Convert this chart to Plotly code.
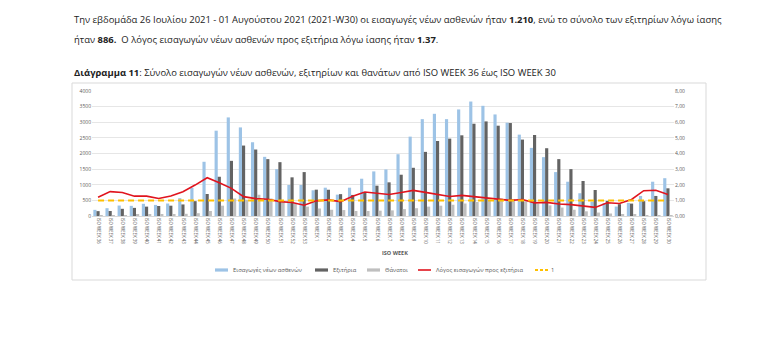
import plotly.graph_objects as go

weeks = [f"ISO WEEK {w}" for w in list(range(36, 54)) + list(range(1, 31))]

admissions = [197, 250, 335, 325, 390, 355, 400, 570, 905, 1735, 2730, 3155, 2835, 2360, 1893, 1500,
              992, 992, 823, 906, 684, 906, 1193, 1427, 1490, 1977, 2540, 3100, 3270, 3100, 3410, 3663,
              3526, 3250, 2985, 2604, 2180, 1883, 1405, 1097, 728, 461, 410, 302, 420, 642, 1097, 1210]
exits = [156, 160, 230, 260, 300, 320, 330, 370, 475, 705, 1256, 1765, 2254, 2127, 1820, 1723,
         1237, 1405, 843, 840, 700, 674, 760, 971, 1077, 1321, 1543, 2052, 2400, 2476, 2582, 2953,
         3027, 2890, 2975, 2445, 2593, 2169, 1820, 1500, 1120, 833, 483, 378, 397, 474, 642, 886]
deaths = [20, 25, 30, 40, 50, 55, 60, 70, 90, 160, 330, 560, 520, 680, 560, 470,
          400, 300, 240, 200, 190, 160, 160, 170, 180, 220, 250, 300, 330, 360, 400, 450,
          520, 560, 540, 470, 400, 340, 270, 200, 150, 110, 80, 60, 40, 30, 30, 30]
ratio = [1.20, 1.56, 1.50, 1.27, 1.27, 1.12, 1.28, 1.55, 1.98, 2.45, 2.13, 1.77, 1.24, 1.11, 1.07, 0.92,
         0.86, 0.69, 0.97, 1.03, 0.92, 1.27, 1.54, 1.47, 1.38, 1.50, 1.64, 1.51, 1.36, 1.25, 1.32, 1.24,
         1.16, 1.12, 1.00, 1.06, 0.84, 0.87, 0.77, 0.73, 0.65, 0.55, 0.85, 0.80, 1.06, 1.62, 1.65, 1.37]
reference_one = [1] * len(weeks)

left_ticks = [0, 500, 1000, 1500, 2000, 2500, 3000, 3500, 4000]
right_ticks = [0, 1, 2, 3, 4, 5, 6, 7, 8]

series_names = ["Εισαγωγές νέων ασθενών", "Εξιτήρια", "Θάνατοι",
                "Λόγος εισαγωγών προς εξιτήρια", "1"]
BLUE, DARK, LIGHT, RED, YELLOW = "#9DC3E6", "#636363", "#BFBFBF", "#E0141E", "#FFC000"

FONT = "Open Sans, Noto Sans, Liberation Sans, sans-serif"
GREY = "#595959"

# page body has an 8px margin; figure is sized to fit the window exactly
OFF = 8
W, H = 772 - 2 * OFF, 355 - 2 * OFF
# plot area in page pixels (reference coordinates)
PL, PR, PT, PB = 92, 674, 91, 216


def px(xv):
    return (xv - PL) / (PR - PL)


def py(yv):
    return (PB - yv) / (PB - PT)


fig = go.Figure()
fig.add_trace(go.Bar(x=weeks, y=admissions, name=series_names[0],
                     marker=dict(color=BLUE, line=dict(width=0))))
fig.add_trace(go.Bar(x=weeks, y=exits, name=series_names[1],
                     marker=dict(color=DARK, line=dict(width=0))))
fig.add_trace(go.Bar(x=weeks, y=deaths, name=series_names[2],
                     marker=dict(color=LIGHT, line=dict(width=0))))
fig.add_trace(go.Scatter(x=weeks, y=ratio, name=series_names[3], yaxis="y2",
                         mode="lines", line=dict(color=RED, width=1.6)))
fig.add_trace(go.Scatter(x=weeks, y=reference_one, name=series_names[4], yaxis="y2",
                         mode="lines", line=dict(color=YELLOW, width=2, dash="6px,4px")))

TXT = dict(family=FONT, size=9.45, color="#222222")
annotations = [
    dict(x=px(72), y=py(20), xref="paper", yref="paper", xanchor="left", yanchor="middle",
         showarrow=False, align="left",
         text="Την εβδομάδα 26 Ιουλίου 2021 - 01 Αυγούστου 2021 (2021-W30) οι εισαγωγές νέων ασθενών ήταν <b>1.210</b>, ενώ το σύνολο των εξιτηρίων λόγω ίασης",
         font=TXT),
    dict(x=px(72), y=py(39), xref="paper", yref="paper", xanchor="left", yanchor="middle",
         showarrow=False, align="left",
         text="ήταν <b>886.</b>  Ο λόγος εισαγωγών νέων ασθενών προς εξιτήρια λόγω ίασης ήταν <b>1.37</b>.",
         font=TXT),
    dict(x=px(72), y=py(72), xref="paper", yref="paper", xanchor="left", yanchor="middle",
         showarrow=False, align="left",
         text="<b>Διάγραμμα 11</b>: Σύνολο εισαγωγών νέων ασθενών, εξιτηρίων και θανάτων από ISO WEEK 36 έως ISO WEEK 30",
         font=TXT),
    dict(x=px(395), y=py(253), xref="paper", yref="paper", xanchor="center", yanchor="middle",
         showarrow=False, text="<b>ISO WEEK</b>",
         font=dict(family=FONT, size=5.5, color=GREY)),
]

shapes = [
    dict(type="rect", xref="paper", yref="paper", x0=px(72), x1=px(706), y0=py(280), y1=py(83),
         line=dict(color="#D9D9D9", width=1), fillcolor="rgba(0,0,0,0)", layer="below"),
]

# legend drawn manually to match the compact reference layout
LY = 270
legend_items = [
    (series_names[0], "bar", BLUE, 215, 231),
    (series_names[1], "bar", DARK, 315, 331),
    (series_names[2], "bar", LIGHT, 367, 383),
    (series_names[3], "line", RED, 418, 434),
    (series_names[4], "dash", YELLOW, 535, 549),
]
for name, kind, color, sx, tx in legend_items:
    if kind == "bar":
        shapes.append(dict(type="rect", xref="paper", yref="paper",
                           x0=px(sx), x1=px(sx + 13), y0=py(LY + 1.6), y1=py(LY - 1.6),
                           line=dict(width=0), fillcolor=color))
    else:
        shapes.append(dict(type="line", xref="paper", yref="paper",
                           x0=px(sx), x1=px(sx + 13), y0=py(LY), y1=py(LY),
                           line=dict(color=color, width=1.6 if kind == "line" else 2,
                                     dash="solid" if kind == "line" else "3px,2px")))
    annotations.append(dict(x=px(tx), y=py(LY), xref="paper", yref="paper",
                            xanchor="left", yanchor="middle", showarrow=False, text=name,
                            font=dict(family=FONT, size=5.8, color=GREY)))

fig.update_layout(
    width=W, height=H, autosize=False,
    margin=dict(l=PL - OFF, r=W - (PR - OFF), t=PT - OFF, b=H - (PB - OFF), pad=0),
    paper_bgcolor="white", plot_bgcolor="white",
    barmode="group", bargap=0.22, bargroupgap=0.0,
    separators=",.",
    font=dict(family=FONT, size=5, color=GREY),
    xaxis=dict(tickangle=90, tickfont=dict(size=4.4, color=GREY), showgrid=False,
               showline=True, linecolor="#D9D9D9", ticks="", range=[-0.5, len(weeks) - 0.5]),
    yaxis=dict(range=[0, 4000], tickvals=left_ticks, tickformat="d", showgrid=True,
               gridcolor="#E6E6E6", gridwidth=1, zeroline=False, showline=False,
               tickfont=dict(size=5, color=GREY), ticks=""),
    yaxis2=dict(range=[0, 8], tickvals=right_ticks, tickformat=".2f", overlaying="y", side="right",
                showgrid=False, zeroline=False, showline=False,
                tickfont=dict(size=5, color=GREY), ticks=""),
    showlegend=False,
    annotations=annotations,
    shapes=shapes,
)

fig.write_html("out.html")
